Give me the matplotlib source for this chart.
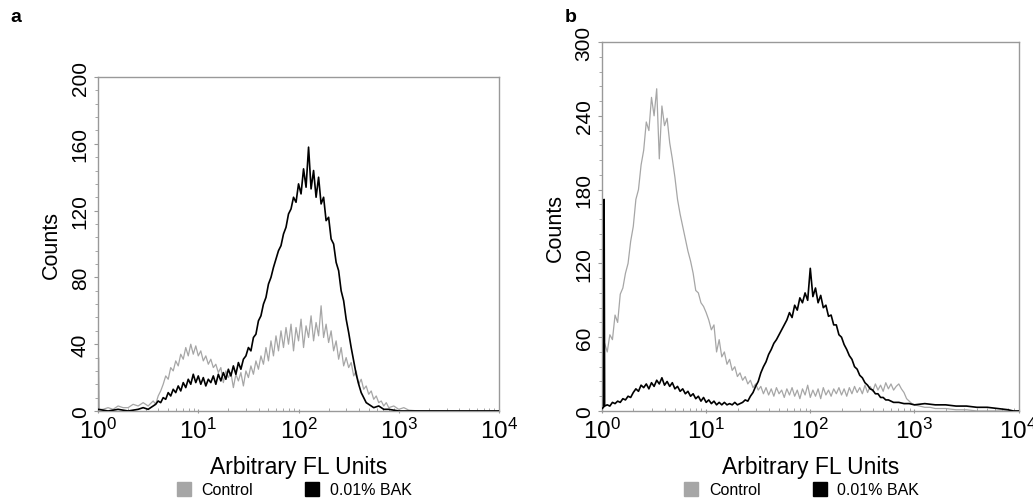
import numpy as np
import matplotlib
matplotlib.use("Agg")
import matplotlib.pyplot as plt
from matplotlib.lines import Line2D
from matplotlib.ticker import MultipleLocator, LogLocator, NullFormatter

plt.rcParams["font.family"] = ["Liberation Sans", "DejaVu Sans"]
plt.rcParams["mathtext.fontset"] = "custom"
plt.rcParams["mathtext.rm"] = "Liberation Sans"
plt.rcParams["mathtext.it"] = "Liberation Sans:italic"
plt.rcParams["mathtext.bf"] = "Liberation Sans:bold"

# ----- data: x in decades (log10 of FL units), y = counts -----
# panel a, control
a_ctrl_x = [0.0, 0.005, 0.012, 0.05, 0.1, 0.15, 0.2, 0.25, 0.3, 0.35, 0.4, 0.45, 0.5, 0.55,
            0.575, 0.6, 0.625, 0.65, 0.675, 0.7, 0.725, 0.75, 0.775, 0.8, 0.825, 0.85, 0.875,
            0.9, 0.925, 0.95, 0.975, 1.0, 1.025, 1.05, 1.075, 1.1, 1.125, 1.15, 1.175, 1.2,
            1.225, 1.25, 1.275, 1.3, 1.325, 1.35, 1.375, 1.4, 1.425, 1.45, 1.475, 1.5, 1.525,
            1.55, 1.575, 1.6, 1.625, 1.65, 1.675, 1.7, 1.725, 1.75, 1.775, 1.8, 1.825, 1.85,
            1.875, 1.9, 1.925, 1.95, 1.975, 2.0, 2.025, 2.05, 2.075, 2.1, 2.125, 2.15, 2.175,
            2.2, 2.225, 2.25, 2.275, 2.3, 2.325, 2.35, 2.375, 2.4, 2.425, 2.45, 2.475, 2.5,
            2.525, 2.55, 2.575, 2.6, 2.625, 2.65, 2.675, 2.7, 2.725, 2.75, 2.775, 2.8, 2.825,
            2.85, 2.875, 2.9, 2.95, 3.0, 3.05, 3.1, 3.2, 4.0]
a_ctrl_y = [0, 32, 1, 1, 2, 1, 3, 2, 2, 4, 3, 5, 3, 6,
            4, 9, 12, 16, 21, 19, 26, 24, 30, 27, 34, 31, 38,
            33, 40, 34, 39, 33, 36, 30, 33, 28, 31, 26, 28, 23,
            26, 17, 24, 20, 23, 14, 22, 18, 23, 15, 24, 20, 27,
            22, 30, 25, 33, 28, 38, 30, 42, 33, 45, 36, 48, 38,
            50, 40, 52, 36, 50, 42, 55, 38, 51, 44, 57, 42, 53,
            45, 63, 44, 52, 41, 48, 36, 42, 31, 38, 27, 32, 26,
            29, 21, 24, 16, 19, 13, 15, 10, 12, 7, 9, 5, 6,
            3, 5, 2, 3, 1, 2, 0.5, 0, 0]

# panel a, 0.01% BAK
a_bak_x = [0.0, 0.1, 0.2, 0.3, 0.4, 0.45, 0.5, 0.55,
           0.575, 0.6, 0.625, 0.65, 0.675, 0.7, 0.725, 0.75, 0.775, 0.8, 0.825, 0.85, 0.875,
           0.9, 0.925, 0.95, 0.975, 1.0, 1.025, 1.05, 1.075, 1.1, 1.125, 1.15, 1.175, 1.2,
           1.225, 1.25, 1.275, 1.3, 1.325, 1.35, 1.375, 1.4, 1.425, 1.45, 1.475, 1.5, 1.525,
           1.55, 1.575, 1.6, 1.625, 1.65, 1.675, 1.7, 1.725, 1.75, 1.775, 1.8, 1.825, 1.85,
           1.875, 1.9, 1.925, 1.95, 1.975, 2.0, 2.025, 2.05, 2.075, 2.1, 2.125, 2.15, 2.175,
           2.2, 2.225, 2.25, 2.275, 2.3, 2.325, 2.35, 2.375, 2.4, 2.425, 2.45, 2.475, 2.5,
           2.525, 2.55, 2.575, 2.6, 2.625, 2.65, 2.675, 2.7, 2.75, 2.8, 2.85, 2.9, 3.0, 4.0]
a_bak_y = [1, 0, 1, 0, 1, 2, 1, 3,
           4, 6, 5, 8, 7, 11, 9, 13, 11, 15, 12, 17, 14,
           19, 16, 22, 17, 21, 16, 20, 15, 19, 17, 21, 16, 22,
           18, 23, 19, 25, 21, 27, 22, 29, 25, 31, 33, 38, 36,
           44, 46, 54, 57, 64, 68, 76, 80, 86, 91, 96, 99, 106,
           110, 118, 121, 128, 125, 136, 130, 145, 134, 158, 133, 144, 128,
           140, 124, 128, 114, 116, 103, 100, 89, 84, 72, 66, 55, 47,
           38, 30, 22, 16, 11, 8, 5, 4, 2, 3, 1, 1, 0, 0]

# panel b, control
b_ctrl_x = [0.0, 0.025, 0.05, 0.075, 0.1, 0.125, 0.15, 0.175, 0.2, 0.225, 0.25, 0.275, 0.3,
            0.325, 0.35, 0.375, 0.4, 0.425, 0.45, 0.475, 0.5, 0.525, 0.55, 0.575, 0.6, 0.625,
            0.65, 0.675, 0.7, 0.725, 0.75, 0.775, 0.8, 0.825, 0.85, 0.875, 0.9, 0.925, 0.95,
            0.975, 1.0, 1.025, 1.05, 1.075, 1.1, 1.125, 1.15, 1.175, 1.2, 1.225, 1.25, 1.275,
            1.3, 1.325, 1.35, 1.375, 1.4, 1.425, 1.45, 1.475, 1.5, 1.525, 1.55, 1.575, 1.6,
            1.625, 1.65, 1.675, 1.7, 1.725, 1.75, 1.775, 1.8, 1.825, 1.85, 1.875, 1.9, 1.925,
            1.95, 1.975, 2.0, 2.025, 2.05, 2.075, 2.1, 2.125, 2.15, 2.175, 2.2, 2.225, 2.25,
            2.275, 2.3, 2.325, 2.35, 2.375, 2.4, 2.425, 2.45, 2.475, 2.5, 2.525, 2.55, 2.575,
            2.6, 2.625, 2.65, 2.675, 2.7, 2.725, 2.75, 2.775, 2.8, 2.825, 2.85, 2.875, 2.9,
            2.925, 2.95, 2.975, 3.0, 3.05, 3.1, 3.15, 3.2, 3.3, 3.4, 3.5, 3.6, 4.0]
b_ctrl_y = [42, 55, 48, 62, 58, 78, 72, 95, 100, 112, 120, 138, 150,
            172, 180, 200, 212, 235, 228, 255, 240, 262, 205, 248, 232, 238,
            218, 205, 190, 172, 160, 150, 140, 130, 122, 112, 98, 96, 88,
            85, 80, 74, 66, 70, 48, 58, 44, 48, 38, 42, 33, 36,
            28, 31, 25, 28, 22, 25, 19, 22, 17, 20, 14, 19, 13,
            18, 12, 19, 14, 17, 11, 18, 13, 19, 12, 17, 10, 18,
            13, 21, 11, 17, 12, 18, 10, 19, 13, 17, 12, 18, 14,
            19, 13, 18, 12, 19, 14, 20, 15, 19, 14, 21, 15, 20,
            16, 22, 17, 21, 16, 23, 18, 22, 17, 20, 22, 18, 15,
            10, 8, 6, 5, 4, 3, 3, 2, 2, 1, 1, 0, 0]

# panel b, 0.01% BAK
b_bak_x = [0.0, 0.015, 0.02, 0.025, 0.05, 0.075, 0.1, 0.125, 0.15, 0.175, 0.2, 0.225, 0.25,
           0.275, 0.3, 0.325, 0.35, 0.375, 0.4, 0.425, 0.45, 0.475, 0.5, 0.525, 0.55, 0.575,
           0.6, 0.625, 0.65, 0.675, 0.7, 0.725, 0.75, 0.775, 0.8, 0.825, 0.85, 0.875, 0.9,
           0.925, 0.95, 0.975, 1.0, 1.025, 1.05, 1.075, 1.1, 1.125, 1.15, 1.175, 1.2, 1.225,
           1.25, 1.275, 1.3, 1.325, 1.35, 1.375, 1.4, 1.425, 1.45, 1.475, 1.5, 1.525, 1.55,
           1.575, 1.6, 1.625, 1.65, 1.675, 1.7, 1.725, 1.75, 1.775, 1.8, 1.825, 1.85, 1.875,
           1.9, 1.925, 1.95, 1.975, 2.0, 2.025, 2.05, 2.075, 2.1, 2.125, 2.15, 2.175, 2.2,
           2.225, 2.25, 2.275, 2.3, 2.325, 2.35, 2.375, 2.4, 2.425, 2.45, 2.475, 2.5, 2.525,
           2.55, 2.575, 2.6, 2.625, 2.65, 2.675, 2.7, 2.725, 2.75, 2.8, 2.85, 2.9, 2.95, 3.0,
           3.1, 3.2, 3.3, 3.4, 3.5, 3.6, 3.7, 3.8, 3.9, 3.95, 4.0]
b_bak_y = [2, 3, 172, 4, 5, 4, 7, 6, 8, 7, 10, 9, 12,
           11, 15, 18, 16, 21, 19, 22, 18, 23, 20, 25, 22, 27,
           21, 24, 20, 23, 18, 20, 16, 18, 14, 16, 12, 14, 10,
           12, 8, 11, 7, 9, 6, 8, 5, 7, 5, 7, 5, 6,
           5, 7, 5, 6, 7, 9, 8, 12, 15, 20, 24, 31, 36,
           40, 46, 50, 55, 58, 62, 66, 70, 74, 80, 76, 86, 82,
           92, 88, 96, 90, 116, 93, 100, 88, 94, 84, 86, 77, 78,
           70, 70, 62, 60, 54, 50, 45, 42, 36, 34, 29, 27, 23,
           21, 18, 17, 14, 14, 11, 11, 9, 9, 7, 7, 6, 6, 5,
           6, 5, 5, 4, 4, 3, 3, 2, 1, 0, 0]

ctrl_color = "#a6a6a6"
bak_color = "black"
spine_color = "#999999"


def style_axes(ax, ymax, ystep, yminor):
    ax.set_xscale("log")
    ax.set_xlim(1, 1e4)
    ax.set_ylim(0, ymax)
    ax.yaxis.set_major_locator(MultipleLocator(ystep))
    ax.yaxis.set_minor_locator(MultipleLocator(yminor))
    ax.xaxis.set_major_locator(LogLocator(base=10, numticks=10))
    ax.xaxis.set_minor_locator(LogLocator(base=10, subs=np.arange(2, 10), numticks=10))
    ax.xaxis.set_minor_formatter(NullFormatter())
    for s in ax.spines.values():
        s.set_color(spine_color)
        s.set_linewidth(1.0)
    ax.tick_params(axis="y", which="major", labelsize=15, length=3, color=spine_color,
                   labelrotation=90, pad=3)
    ax.tick_params(axis="y", which="minor", length=2, color=spine_color)
    for lab in ax.get_yticklabels():
        lab.set_va("center")
    ax.tick_params(axis="x", which="major", labelsize=17.5, length=3, direction="inout",
                   color=spine_color, pad=3)
    ax.tick_params(axis="x", which="minor", length=2, direction="in", color=spine_color)
    ax.set_xlabel("Arbitrary FL Units", fontsize=16.5, labelpad=9)
    ax.set_ylabel("Counts", fontsize=15.5, labelpad=6)


fig = plt.figure(figsize=(10.33, 5.02), dpi=100)
ax_a = fig.add_axes([0.0949, 0.1793, 0.3882, 0.6653])
ax_b = fig.add_axes([0.5828, 0.1793, 0.4032, 0.7350])

for ax, cx, cy, bx, by, ymax, ystep, yminor, lx in [
        (ax_a, a_ctrl_x, a_ctrl_y, a_bak_x, a_bak_y, 200, 40, 8, 0.2846),
        (ax_b, b_ctrl_x, b_ctrl_y, b_bak_x, b_bak_y, 300, 60, 12, 0.7755)]:
    ax.plot(10 ** np.asarray(cx), cy, color=ctrl_color, lw=0.9, zorder=2)
    ax.plot(10 ** np.asarray(bx), by, color=bak_color, lw=1.2, zorder=3)
    style_axes(ax, ymax, ystep, yminor)
    handles = [Line2D([], [], ls="none", marker="s", ms=10, color=ctrl_color, label="Control"),
               Line2D([], [], ls="none", marker="s", ms=10, color=bak_color, label="0.01% BAK")]
    fig.legend(handles=handles, loc="center", bbox_to_anchor=(lx, 0.022), ncol=2,
               frameon=False, fontsize=11.5, handletextpad=0.6, columnspacing=3.2,
               borderaxespad=0, borderpad=0, handlelength=1.0)

fig.text(0.010, 0.965, "a", fontsize=14, fontweight="bold", va="center")
fig.text(0.547, 0.966, "b", fontsize=14, fontweight="bold", va="center")

fig.savefig("out.png", dpi=100)
